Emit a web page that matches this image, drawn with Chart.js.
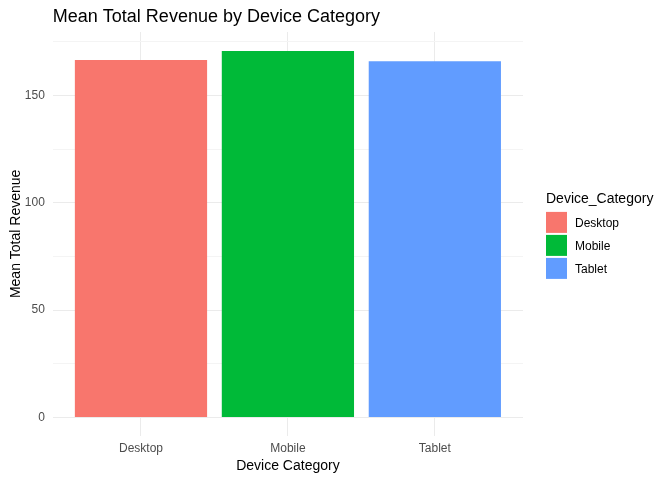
<!DOCTYPE html>
<html>
<head>
<meta charset="utf-8">
<script src="https://cdn.jsdelivr.net/npm/chart.js@4"></script>
<style>
  html, body { margin: 0; padding: 0; background: #fff; }
  #wrap { width: 672px; height: 480px; }
</style>
</head>
<body>
<div id="wrap"><canvas id="revenueChart" width="672" height="480"></canvas></div>
<script>
// data
const categories = ['Desktop', 'Mobile', 'Tablet'];
const meanRevenue = [166.6, 170.7, 166.0];
const barColors = ['#F8766D', '#00BA38', '#619CFF'];
const yTicks = [0, 25, 50, 75, 100, 125, 150, 175];
const legendTitle = 'Device_Category';

const FONT = "'Liberation Sans', Arial, sans-serif";

// title at the left edge of the panel, ggplot style
const panelTitle = {
  id: 'panelTitle',
  afterDraw(chart) {
    const ctx = chart.ctx;
    ctx.save();
    ctx.font = '18px ' + FONT;
    ctx.fillStyle = '#000';
    ctx.textBaseline = 'middle';
    ctx.textAlign = 'left';
    ctx.fillText('Mean Total Revenue by Device Category', chart.chartArea.left, 17);
    ctx.restore();
  }
};

// legend on the right, keys stacked under the title
const sideLegend = {
  id: 'sideLegend',
  afterDraw(chart) {
    const ctx = chart.ctx;
    const x = chart.chartArea.right + 23;
    const mid = (chart.chartArea.top + chart.chartArea.bottom) / 2;
    const top = mid - 22;
    ctx.save();
    ctx.fillStyle = '#000';
    ctx.textAlign = 'left';
    ctx.textBaseline = 'alphabetic';
    ctx.font = '14px ' + FONT;
    ctx.fillText(legendTitle, x, top - 9);
    ctx.font = '12px ' + FONT;
    ctx.textBaseline = 'middle';
    categories.forEach((c, i) => {
      const y = top + i * 23;
      ctx.fillStyle = barColors[i];
      ctx.fillRect(x, y, 21, 21);
      ctx.fillStyle = '#000';
      ctx.fillText(c, x + 29, y + 11.5);
    });
    ctx.restore();
  }
};

const points = categories.map((c, i) => ({ x: i + 1, y: meanRevenue[i] }));

const ctx = document.getElementById('revenueChart').getContext('2d');
new Chart(ctx, {
  type: 'bar',
  data: {
    datasets: [{
      label: legendTitle,
      data: points,
      backgroundColor: barColors,
      borderWidth: 0,
      inflateAmount: 0,
      categoryPercentage: 1,
      barPercentage: 0.9
    }]
  },
  plugins: [panelTitle, sideLegend],
  options: {
    responsive: false,
    animation: false,
    layout: { padding: { top: 32, left: 8, right: 149, bottom: 5 } },
    plugins: {
      tooltip: { enabled: false },
      legend: { display: false }
    },
    scales: {
      x: {
        type: 'linear',
        min: 0.4,
        max: 3.6,
        offset: false,
        afterBuildTicks(scale) {
          scale.ticks = categories.map((c, i) => ({ value: i + 1 }));
        },
        ticks: {
          color: '#4D4D4D',
          font: { family: FONT, size: 12 },
          padding: 6,
          callback: (v) => categories[v - 1] || ''
        },
        grid: { offset: false, color: '#EBEBEB', lineWidth: 1, drawTicks: false },
        border: { display: false },
        title: {
          display: true,
          text: 'Device Category',
          color: '#000',
          font: { family: FONT, size: 14 },
          padding: { top: -4, bottom: 0 }
        }
      },
      y: {
        min: -8.55,
        max: 179.6,
        afterBuildTicks(scale) {
          scale.ticks = yTicks.map(v => ({ value: v }));
        },
        ticks: {
          color: '#4D4D4D',
          font: { family: FONT, size: 12 },
          padding: 8,
          callback: (v) => (v % 50 === 0 ? String(v) : '')
        },
        grid: {
          drawTicks: false,
          color: (c) => (c.tick && c.tick.value % 50 === 0 ? '#EBEBEB' : '#F4F4F4'),
          lineWidth: 1
        },
        border: { display: false },
        title: {
          display: true,
          text: 'Mean Total Revenue',
          color: '#000',
          font: { family: FONT, size: 14 },
          padding: { top: 0, bottom: -8 }
        }
      }
    }
  }
});
</script>
</body>
</html>
